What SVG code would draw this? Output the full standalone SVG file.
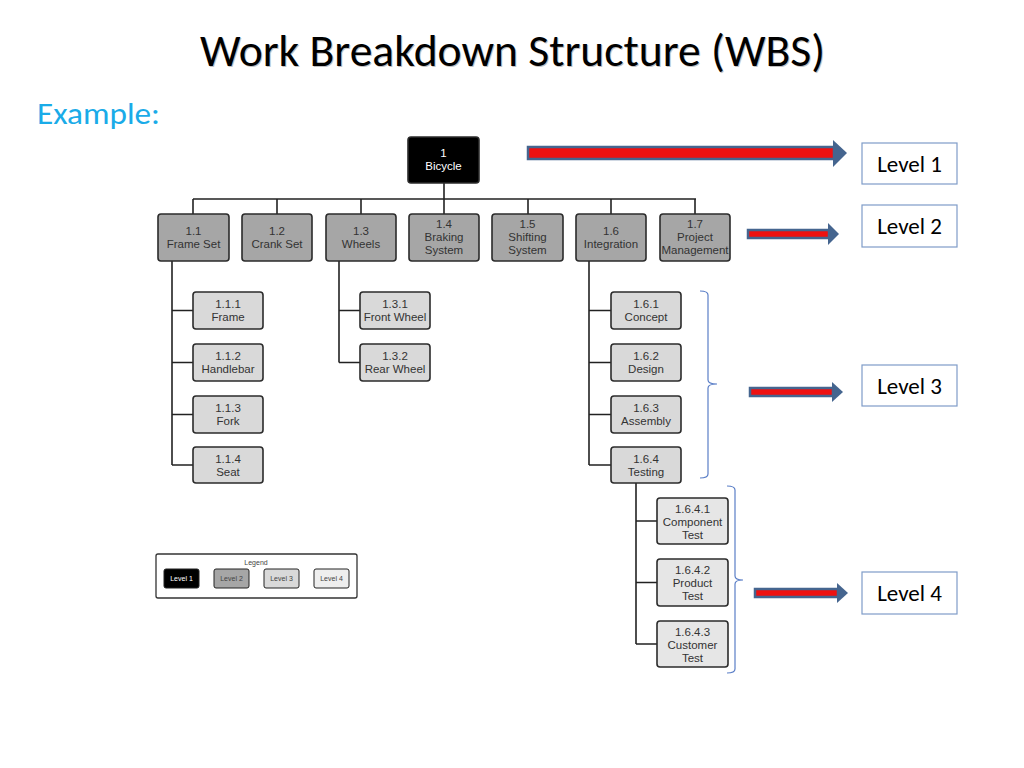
<svg xmlns="http://www.w3.org/2000/svg" width="1024" height="768" viewBox="0 0 1024 768">
<defs>
<style>
.n rect{stroke:#2b2b2b;stroke-width:1.6}
.l1 rect{fill:#000}
.l2 rect{fill:#a6a6a6}
.l3 rect{fill:#d9d9d9}
.l4 rect{fill:#e6e6e6}
.n text{font-family:"Liberation Sans",Arial,sans-serif;font-size:11.5px;fill:#333;text-anchor:middle}
.l1 text{fill:#fff}
.c{stroke:#222;stroke-width:1.6;fill:none}
.br{stroke:#5b7fc7;stroke-width:1.2;fill:none}
.lv rect{fill:#fff;stroke:#7f9cc8;stroke-width:1.2}
.lv text{font-family:Carlito,Lato,"Liberation Sans",sans-serif;font-size:23px;fill:#000;text-anchor:middle}
.sh{fill:#ee1111;stroke:#45658f;stroke-width:2.5}
.hd{fill:#45658f}
.lg text{font-family:"Liberation Sans",Arial,sans-serif;font-size:7px;fill:#444;text-anchor:middle}
</style>
</defs>
<rect width="1024" height="768" fill="#fff"/>
<g id="title">
<text x="201" y="67" font-family="Carlito,Lato,'Liberation Sans',sans-serif" font-size="46" fill="#999" textLength="625" lengthAdjust="spacingAndGlyphs" opacity="0.6">Work Breakdown Structure (WBS)</text>
<text x="200" y="66" font-family="Carlito,Lato,'Liberation Sans',sans-serif" font-size="46" fill="#000" textLength="625" lengthAdjust="spacingAndGlyphs">Work Breakdown Structure (WBS)</text>
<text x="37" y="124" font-family="Carlito,Lato,'Liberation Sans',sans-serif" font-size="30" fill="#1aabe8" textLength="123" lengthAdjust="spacingAndGlyphs">Example:</text>
</g>
<g id="connectors">
<path class="c" d="M444,183 V199 M193,199 H696 M193,199 V214 M277,199 V214 M361,199 V214 M444,199 V214 M528,199 V214 M611,199 V214 M695,199 V214"/>
<path class="c" d="M172,261 V465 M172,310.5 H193 M172,362.5 H193 M172,414.5 H193 M172,465 H193"/>
<path class="c" d="M339,261 V362.5 M339,310.5 H360 M339,362.5 H360"/>
<path class="c" d="M589,261 V465 M589,310.5 H611 M589,362.5 H611 M589,414.5 H611 M589,465 H611"/>
<path class="c" d="M636,483 V644 M636,521 H657 M636,582.5 H657 M636,644 H657"/>
</g>
<g id="n1" class="n l1"><rect x="408" y="137" width="71" height="46" rx="3"/><text x="443.5" y="157">1</text><text x="443.5" y="170">Bicycle</text></g>
<g id="n1_1" class="n l2"><rect x="158" y="214" width="71" height="47" rx="3"/><text x="193.5" y="235">1.1</text><text x="193.5" y="248">Frame Set</text></g>
<g id="n1_2" class="n l2"><rect x="242" y="214" width="70" height="47" rx="3"/><text x="277" y="235">1.2</text><text x="277" y="248">Crank Set</text></g>
<g id="n1_3" class="n l2"><rect x="326" y="214" width="70" height="47" rx="3"/><text x="361" y="235">1.3</text><text x="361" y="248">Wheels</text></g>
<g id="n1_4" class="n l2"><rect x="409" y="214" width="70" height="47" rx="3"/><text x="444" y="228">1.4</text><text x="444" y="241">Braking</text><text x="444" y="254">System</text></g>
<g id="n1_5" class="n l2"><rect x="492" y="214" width="71" height="47" rx="3"/><text x="527.5" y="228">1.5</text><text x="527.5" y="241">Shifting</text><text x="527.5" y="254">System</text></g>
<g id="n1_6" class="n l2"><rect x="576" y="214" width="70" height="47" rx="3"/><text x="611" y="235">1.6</text><text x="611" y="248">Integration</text></g>
<g id="n1_7" class="n l2"><rect x="660" y="214" width="70" height="47" rx="3"/><text x="695" y="228">1.7</text><text x="695" y="241">Project</text><text x="695" y="254">Management</text></g>
<g id="n1_1_1" class="n l3"><rect x="193" y="292" width="70" height="37" rx="3"/><text x="228" y="308">1.1.1</text><text x="228" y="321">Frame</text></g>
<g id="n1_1_2" class="n l3"><rect x="193" y="344" width="70" height="37" rx="3"/><text x="228" y="360">1.1.2</text><text x="228" y="373">Handlebar</text></g>
<g id="n1_1_3" class="n l3"><rect x="193" y="396" width="70" height="37" rx="3"/><text x="228" y="412">1.1.3</text><text x="228" y="425">Fork</text></g>
<g id="n1_1_4" class="n l3"><rect x="193" y="447" width="70" height="36" rx="3"/><text x="228" y="463">1.1.4</text><text x="228" y="476">Seat</text></g>
<g id="n1_3_1" class="n l3"><rect x="360" y="292" width="70" height="37" rx="3"/><text x="395" y="308">1.3.1</text><text x="395" y="321">Front Wheel</text></g>
<g id="n1_3_2" class="n l3"><rect x="360" y="344" width="70" height="37" rx="3"/><text x="395" y="360">1.3.2</text><text x="395" y="373">Rear Wheel</text></g>
<g id="n1_6_1" class="n l3"><rect x="611" y="292" width="70" height="37" rx="3"/><text x="646" y="308">1.6.1</text><text x="646" y="321">Concept</text></g>
<g id="n1_6_2" class="n l3"><rect x="611" y="344" width="70" height="37" rx="3"/><text x="646" y="360">1.6.2</text><text x="646" y="373">Design</text></g>
<g id="n1_6_3" class="n l3"><rect x="611" y="396" width="70" height="37" rx="3"/><text x="646" y="412">1.6.3</text><text x="646" y="425">Assembly</text></g>
<g id="n1_6_4" class="n l3"><rect x="611" y="447" width="70" height="36" rx="3"/><text x="646" y="463">1.6.4</text><text x="646" y="476">Testing</text></g>
<g id="n1_6_4_1" class="n l4"><rect x="657" y="498" width="71" height="46" rx="3"/><text x="692.5" y="513">1.6.4.1</text><text x="692.5" y="526">Component</text><text x="692.5" y="539">Test</text></g>
<g id="n1_6_4_2" class="n l4"><rect x="657" y="559" width="71" height="47" rx="3"/><text x="692.5" y="574">1.6.4.2</text><text x="692.5" y="587">Product</text><text x="692.5" y="600">Test</text></g>
<g id="n1_6_4_3" class="n l4"><rect x="657" y="621" width="71" height="46" rx="3"/><text x="692.5" y="636">1.6.4.3</text><text x="692.5" y="649">Customer</text><text x="692.5" y="662">Test</text></g>
<g id="legend" class="lg">
<rect x="156" y="554" width="201" height="44" rx="2" fill="#fff" stroke="#333" stroke-width="1.3"/>
<text x="256" y="565">Legend</text>
<rect x="164" y="569" width="35" height="19" rx="2" fill="#000" stroke="#222"/><text x="181.5" y="581" style="fill:#fff">Level 1</text>
<rect x="214" y="569" width="35" height="19" rx="2" fill="#a6a6a6" stroke="#222"/><text x="231.5" y="581">Level 2</text>
<rect x="264" y="569" width="35" height="19" rx="2" fill="#d9d9d9" stroke="#222"/><text x="281.5" y="581">Level 3</text>
<rect x="314" y="569" width="35" height="19" rx="2" fill="#eeeeee" stroke="#222"/><text x="331.5" y="581">Level 4</text>
</g>
<g id="brackets">
<path class="br" d="M700,291 Q708,291 708,295 V380 Q708,384 717,384 Q708,384 708,388 V474 Q708,478 700,478"/>
<path class="br" d="M727,486 Q735,486 735,490 V576 Q735,580 743,580 Q735,580 735,584 V669 Q735,673 727,673"/>
</g>
<g id="arrows">
<rect class="sh" x="528" y="147" width="306" height="12"/><polygon class="hd" points="833,140 847,153 833,167"/>
<rect class="sh" x="748" y="230" width="81" height="8"/><polygon class="hd" points="828,223 839,234 828,245"/>
<rect class="sh" x="750" y="388" width="83" height="8"/><polygon class="hd" points="832,382 843,392 832,402"/>
<rect class="sh" x="755" y="589" width="83" height="8"/><polygon class="hd" points="837,583 848,593 837,603"/>
</g>
<g id="lv1" class="lv"><rect x="862" y="143" width="95" height="41"/><text x="909.5" y="172">Level 1</text></g>
<g id="lv2" class="lv"><rect x="862" y="205" width="95" height="42"/><text x="909.5" y="234">Level 2</text></g>
<g id="lv3" class="lv"><rect x="862" y="365" width="95" height="41"/><text x="909.5" y="394">Level 3</text></g>
<g id="lv4" class="lv"><rect x="862" y="572" width="95" height="42"/><text x="909.5" y="601">Level 4</text></g>
</svg>
